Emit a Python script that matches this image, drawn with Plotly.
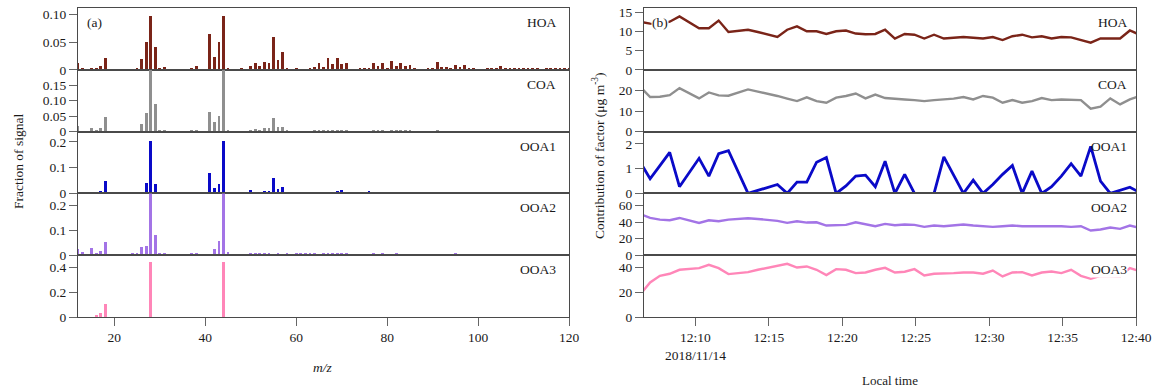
import plotly.graph_objects as go
import pandas as pd

W, H = 1156, 389
FONT = "Liberation Serif, Times New Roman, serif"

FACTORS = ["HOA", "COA", "OOA1", "OOA2", "OOA3"]
COLORS = ["#7a2418", "#8f8f8f", "#0a0ac8", "#a374e6", "#ff86b8"]

# ---- (a) mass spectra: fraction of signal by m/z ----
HOA_SPEC = {12: 0.013, 13: 0.002, 15: 0.002, 16: 0.002, 17: 0.006, 18: 0.022, 25: 0.004, 26: 0.019,
            27: 0.051, 28: 0.098, 29: 0.042, 30: 0.002, 31: 0.005, 37: 0.004, 38: 0.006, 41: 0.064,
            42: 0.024, 43: 0.050, 44: 0.098, 45: 0.004, 48: 0.002, 50: 0.007, 51: 0.012, 52: 0.007,
            53: 0.014, 54: 0.013, 55: 0.059, 56: 0.017, 57: 0.032, 58: 0.004, 60: 0.002, 62: 0.001,
            63: 0.003, 64: 0.005, 65: 0.013, 66: 0.005, 67: 0.021, 68: 0.010, 69: 0.022, 70: 0.011,
            71: 0.013, 74: 0.002, 75: 0.002, 76: 0.003, 77: 0.012, 78: 0.007, 79: 0.013, 80: 0.004,
            81: 0.016, 82: 0.007, 83: 0.013, 84: 0.007, 85: 0.009, 86: 0.002, 89: 0.002, 90: 0.004,
            91: 0.015, 92: 0.005, 93: 0.005, 94: 0.004, 95: 0.009, 96: 0.005, 97: 0.008, 98: 0.003,
            99: 0.002, 102: 0.002, 103: 0.002, 104: 0.003, 105: 0.006, 106: 0.003, 107: 0.004,
            108: 0.003, 109: 0.004, 110: 0.003, 111: 0.003, 112: 0.002, 113: 0.002, 115: 0.004,
            116: 0.003, 117: 0.003, 118: 0.003, 119: 0.003, 120: 0.002}
COA_SPEC = {12: 0.018, 15: 0.013, 16: 0.005, 17: 0.012, 18: 0.047, 26: 0.026, 27: 0.060, 28: 0.26,
            29: 0.091, 30: 0.004, 31: 0.004, 37: 0.003, 38: 0.006, 41: 0.063, 42: 0.032, 43: 0.052,
            44: 0.26, 45: 0.003, 50: 0.004, 51: 0.010, 52: 0.005, 53: 0.012, 54: 0.011, 55: 0.045,
            56: 0.014, 57: 0.015, 58: 0.005, 60: 0.002, 64: 0.003, 65: 0.006, 66: 0.003, 67: 0.007,
            68: 0.004, 69: 0.007, 70: 0.005, 71: 0.005, 76: 0.002, 77: 0.005, 78: 0.003, 79: 0.005,
            81: 0.006, 82: 0.003, 83: 0.005, 84: 0.003, 85: 0.004, 91: 0.004, 95: 0.002}
OOA1_SPEC = {15: 0.004, 16: 0.004, 17: 0.012, 18: 0.048, 26: 0.008, 27: 0.043, 28: 0.205, 29: 0.039,
             37: 0.004, 38: 0.008, 41: 0.079, 42: 0.023, 43: 0.039, 44: 0.205, 50: 0.016, 51: 0.005,
             52: 0.005, 53: 0.012, 54: 0.009, 55: 0.062, 56: 0.018, 57: 0.027, 64: 0.004, 65: 0.003,
             67: 0.008, 68: 0.005, 69: 0.012, 70: 0.016, 71: 0.008, 72: 0.004, 75: 0.003, 76: 0.009,
             77: 0.006, 78: 0.004, 80: 0.004, 81: 0.006, 82: 0.003, 83: 0.007, 84: 0.004, 91: 0.004,
             95: 0.003, 97: 0.003, 98: 0.003, 104: 0.006, 112: 0.003}
OOA2_SPEC = {12: 0.024, 13: 0.011, 15: 0.028, 16: 0.008, 17: 0.017, 18: 0.053, 24: 0.005, 25: 0.009,
             26: 0.031, 27: 0.036, 28: 0.30, 29: 0.081, 30: 0.007, 31: 0.009, 37: 0.009, 38: 0.009,
             42: 0.023, 43: 0.057, 44: 0.30, 45: 0.011, 50: 0.009, 51: 0.009, 52: 0.005, 53: 0.009,
             54: 0.009, 56: 0.005, 58: 0.005, 60: 0.004, 61: 0.004, 62: 0.004, 63: 0.004, 64: 0.004,
             66: 0.004, 67: 0.004, 68: 0.004, 69: 0.005, 70: 0.004, 71: 0.004, 76: 0.003, 77: 0.004,
             79: 0.004, 80: 0.003, 82: 0.004, 95: 0.004, 96: 0.003, 104: 0.003}
OOA3_SPEC = {16: 0.008, 17: 0.027, 18: 0.10, 28: 0.44, 44: 0.44}
SPECTRA = [HOA_SPEC, COA_SPEC, OOA1_SPEC, OOA2_SPEC, OOA3_SPEC]

SPEC_YRANGE = [0.112, 0.20, 0.24, 0.25, 0.50]
SPEC_TICKS = [[0, 0.05, 0.10], [0, 0.05, 0.10, 0.15], [0, 0.1, 0.2], [0, 0.1, 0.2], [0, 0.2, 0.4]]
SPEC_TICKTEXT = [["0", "0.05", "0.10"], ["0", "0.05", "0.10", "0.15"], ["0", "0.1", "0.2"],
                 ["0", "0.1", "0.2"], ["0", "0.2", "0.4"]]
MZ_TICKS = [20, 40, 60, 80, 100, 120]

# ---- (b) time series: contribution (ug m-3) ----
TIMES = pd.date_range("2018-11-14 12:06:15", periods=52, freq="40s")
HOA_TS = [12.6, 12.1, 12.0, 12.6, 14.0, 12.4, 10.9, 10.9, 12.9, 9.9, 10.2, 10.5, 9.9, 9.3, 8.6,
          10.5, 11.4, 10.1, 10.1, 9.4, 10.1, 10.3, 9.5, 9.3, 9.4, 10.5, 8.2, 9.4, 9.2, 8.2, 9.2,
          8.2, 8.4, 8.6, 8.4, 8.2, 8.6, 7.8, 8.8, 9.2, 8.5, 8.8, 8.2, 8.6, 8.5, 7.9, 7.1, 8.2,
          8.2, 8.2, 10.3, 9.2]
COA_TS = [21.6, 16.8, 16.9, 17.7, 21.1, 18.5, 16.1, 19.0, 17.6, 17.4, 18.9, 20.5, 19.4, 18.4,
          17.3, 16.0, 14.8, 16.6, 14.8, 14.0, 16.5, 17.3, 18.5, 16.1, 18.0, 16.3, 16.1, 15.6, 15.3,
          14.8, 15.3, 15.6, 16.0, 16.8, 15.6, 17.3, 16.5, 14.0, 15.3, 14.0, 14.8, 16.3, 15.3, 15.6,
          15.3, 15.3, 11.1, 12.1, 16.1, 13.2, 15.6, 17.3]
OOA1_TS = [1.26, 0.59, 1.12, 1.66, 0.27, 0.86, 1.42, 0.70, 1.61, 1.73, 0.87, 0.0, 0.12, 0.24,
           0.36, 0.0, 0.46, 0.46, 1.26, 1.45, 0.0, 0.30, 0.70, 0.74, 0.27, 1.30, 0.0, 0.77, 0.0,
           0.0, 0.0, 1.48, 0.74, 0.0, 0.54, 0.0, 0.36, 0.77, 1.13, 0.0, 0.90, 0.0, 0.27, 0.70,
           1.20, 0.70, 1.90, 0.50, 0.0, 0.12, 0.25, 0.04]
OOA2_TS = [49.8, 45.2, 43.2, 42.4, 45.2, 42.4, 39.2, 42.4, 41.2, 43.2, 44.0, 44.8, 44.0, 43.2,
           41.6, 39.2, 41.2, 39.6, 40.0, 36.0, 36.0, 36.8, 40.0, 37.5, 35.2, 38.0, 36.4, 37.2,
           36.8, 34.4, 36.0, 35.2, 36.0, 37.2, 36.0, 35.2, 34.4, 35.2, 36.0, 35.2, 35.2, 35.2,
           36.0, 35.2, 34.4, 35.2, 30.0, 31.2, 33.6, 32.0, 36.0, 33.0]
OOA3_TS = [18.2, 28.0, 33.3, 35.0, 38.2, 39.0, 39.5, 42.2, 39.5, 34.7, 35.5, 36.3, 38.2, 40.0,
           41.7, 43.0, 40.0, 40.9, 38.2, 33.9, 38.7, 38.2, 35.5, 36.0, 38.2, 39.8, 36.0, 36.6,
           38.7, 33.6, 35.0, 35.0, 35.5, 36.0, 36.0, 35.0, 37.6, 32.8, 36.0, 36.3, 33.6, 36.0,
           36.8, 35.5, 38.2, 33.3, 30.9, 33.3, 33.0, 33.0, 39.5, 37.0]
SERIES = [HOA_TS, COA_TS, OOA1_TS, OOA2_TS, OOA3_TS]
LINE_WIDTHS = [2.4, 2.4, 2.8, 2.4, 2.4]

TS_YRANGE = [16.2, 30, 2.5, 75, 50]
TS_TICKS = [[0, 5, 10, 15], [0, 10, 20], [0, 1, 2], [0, 20, 40, 60], [0, 20, 40]]
TIME_TICKS = ["2018-11-14 12:10", "2018-11-14 12:15", "2018-11-14 12:20", "2018-11-14 12:25",
              "2018-11-14 12:30", "2018-11-14 12:35", "2018-11-14 12:40"]
TIME_TICKTEXT = ["12:10<br>2018/11/14", "12:15", "12:20", "12:25", "12:30", "12:35", "12:40"]
TIME_RANGE = ["2018-11-14 12:06:30", "2018-11-14 12:40:00"]

# ---- layout geometry (pixels) ----
TOP, BOTTOM = 8, 317
LEFT_X = (78, 569)
RIGHT_X = (644, 1136)
AX_COLOR = "#4a4a4a"
TXT = "#1a1a1a"
FS = 13.5


def px_x(p):
    return p / W


def px_y(p):
    return (BOTTOM - p) / (BOTTOM - TOP)


tickfont = dict(family=FONT, size=FS, color=TXT)
common_axis = dict(showgrid=False, zeroline=False, showline=True, linecolor=AX_COLOR, linewidth=1,
                   mirror=True, ticklen=8, tickcolor="#666", automargin=False,
                   ticklabeloverflow="allow", tickfont=tickfont)
fig = go.Figure()
layout = {}
n = len(FACTORS)
for i in range(n):
    dom_y = [1 - (i + 1) / n, 1 - i / n]
    bottom_row = i == n - 1
    # left spectra
    ax = i + 1
    sx = "" if ax == 1 else str(ax)
    spec = SPECTRA[i]
    fig.add_trace(go.Bar(x=list(spec.keys()), y=list(spec.values()), width=0.6,
                         marker=dict(color=COLORS[i], line=dict(width=0)),
                         xaxis="x" + sx, yaxis="y" + sx, showlegend=False))
    layout["xaxis" + sx] = dict(domain=[px_x(LEFT_X[0]), px_x(LEFT_X[1])], anchor="y" + sx,
                                range=[12, 120], tickvals=MZ_TICKS if bottom_row else [],
                                ticks="outside" if bottom_row else "",
                                showticklabels=bottom_row, **common_axis)
    layout["yaxis" + sx] = dict(domain=dom_y, anchor="x" + sx, range=[0, SPEC_YRANGE[i]],
                                tickvals=SPEC_TICKS[i], ticktext=SPEC_TICKTEXT[i],
                                ticks="outside", **common_axis)
    # right time series
    ax = i + 1 + n
    sx = str(ax)
    fig.add_trace(go.Scatter(x=TIMES, y=SERIES[i], mode="lines",
                             line=dict(color=COLORS[i], width=LINE_WIDTHS[i]),
                             xaxis="x" + sx, yaxis="y" + sx, showlegend=False))
    layout["xaxis" + sx] = dict(domain=[px_x(RIGHT_X[0]), px_x(RIGHT_X[1])], anchor="y" + sx,
                                type="date", range=TIME_RANGE,
                                tickvals=TIME_TICKS if bottom_row else [],
                                ticktext=TIME_TICKTEXT if bottom_row else [],
                                ticks="outside" if bottom_row else "",
                                showticklabels=bottom_row, **common_axis)
    layout["yaxis" + sx] = dict(domain=dom_y, anchor="x" + sx, range=[0, TS_YRANGE[i]],
                                tickvals=TS_TICKS[i], ticks="outside", **common_axis)

annotations = []
row_h = (BOTTOM - TOP) / n
labfont = dict(family=FONT, size=FS, color=TXT)
for i, name in enumerate(FACTORS):
    yc = TOP + i * row_h + 14.5
    annotations.append(dict(x=px_x(558), y=px_y(yc), xref="paper", yref="paper", text=name,
                            xanchor="right", yanchor="middle", showarrow=False, font=labfont))
    annotations.append(dict(x=px_x(1128), y=px_y(yc), xref="paper", yref="paper", text=name,
                            xanchor="right", yanchor="middle", showarrow=False,
                            bgcolor="white" if name == "OOA3" else "rgba(0,0,0,0)",
                            borderpad=0, font=labfont))
annotations += [
    dict(x=px_x(85), y=px_y(22), xref="paper", yref="paper", text="(a)", xanchor="left",
         yanchor="middle", showarrow=False, font=labfont),
    dict(x=px_x(651), y=px_y(22), xref="paper", yref="paper", text="(b)", xanchor="left",
         yanchor="middle", showarrow=False, bgcolor="white", borderpad=0, font=labfont),
    dict(x=px_x(18), y=px_y(162), xref="paper", yref="paper", text="Fraction of signal",
         textangle=-90, xanchor="center", yanchor="middle", showarrow=False, font=labfont),
    dict(x=px_x(598), y=px_y(156), xref="paper", yref="paper",
         text="Contribution of factor (μg m<sup>-3</sup>)", textangle=-90, xanchor="center",
         yanchor="middle", showarrow=False, font=labfont),
    dict(x=px_x(323), y=px_y(367), xref="paper", yref="paper", text="<i>m/z</i>",
         xanchor="center", yanchor="middle", showarrow=False, font=labfont),
    dict(x=px_x(890), y=px_y(380), xref="paper", yref="paper", text="Local time",
         xanchor="center", yanchor="middle", showarrow=False,
         font=dict(family=FONT, size=13, color=TXT)),
]

fig.update_layout(width=W, height=H, margin=dict(l=0, r=0, t=TOP, b=H - BOTTOM),
                  paper_bgcolor="white", plot_bgcolor="white", bargap=0,
                  font=dict(family=FONT, size=FS, color=TXT), annotations=annotations, **layout)

# remove the browser's default page margin so the figure sits at the window's top-left
fig.write_html("out.html", config={"displayModeBar": False},
               post_script="document.body.style.margin='0';document.body.style.overflow='hidden';")
